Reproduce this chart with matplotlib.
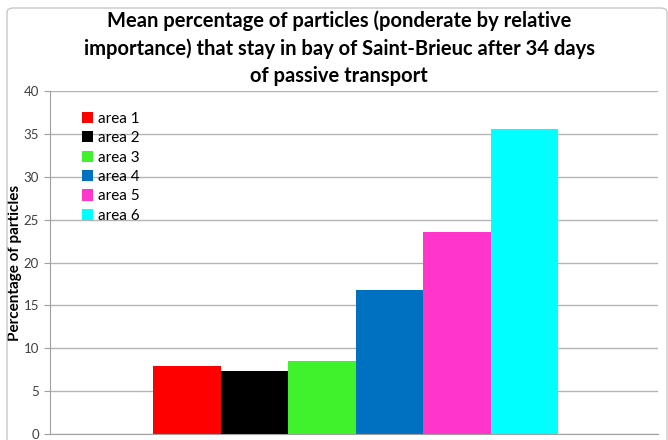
import matplotlib
matplotlib.use("Agg")
import matplotlib.pyplot as plt
from matplotlib.patches import FancyBboxPatch

# mean percentage of particles retained in the bay, one bar per release area
areas = ["area 1", "area 2", "area 3", "area 4", "area 5", "area 6"]
pourcentage = [7.88, 7.38, 8.54, 16.85, 23.54, 35.58]
couleurs = ["#ff0000", "#000000", "#40f22c", "#0070c0", "#ff35cc", "#00ffff"]

titre = ("Mean percentage of particles (ponderate by relative\n"
         "importance) that stay in bay of Saint-Brieuc after 34 days\n"
         "of passive transport")

plt.rcParams["font.family"] = ["Lato", "DejaVu Sans"]

fig = plt.figure(figsize=(6.68, 4.40), dpi=100)
ax = fig.add_axes([50 / 668, 1 - 434 / 440, 608 / 668, 343 / 440])

for i, (nom, val, c) in enumerate(zip(areas, pourcentage, couleurs)):
    ax.bar(i, val, width=1.0, color=c, label=nom, zorder=2)

ax.set_xlim(-2.03, 6.98)
ax.set_ylim(0, 40)
ax.set_yticks(range(0, 41, 5))
ax.set_xticks([])
ax.grid(axis="y", color="#b4b4b4", linewidth=1.0, zorder=0)
ax.tick_params(axis="y", length=4, color="#a0a0a0", labelsize=9.5,
               labelcolor="#404040", pad=4)

for cote in ["top", "right"]:
    ax.spines[cote].set_visible(False)
ax.spines["left"].set_color("#a0a0a0")
ax.spines["bottom"].set_color("#a0a0a0")

ax.set_ylabel("Percentage of particles", fontsize=11, fontweight="bold",
              labelpad=1)

ax.legend(loc="upper left", bbox_to_anchor=(0.042, 0.957), frameon=False,
          fontsize=11, handlelength=0.75, handleheight=0.75,
          handletextpad=0.35, labelspacing=0.35, borderaxespad=0)

fig.text(339 / 668, 1 - 48 / 440, titre, ha="center", va="center",
         fontsize=14.5, fontweight="bold", linespacing=1.45)

# light frame around the whole chart area
cadre = FancyBboxPatch((7 / 668, -0.05), 660 / 668, 1.05 - 8 / 440,
                       boxstyle="round,pad=0,rounding_size=0.01",
                       transform=fig.transFigure, facecolor="none",
                       edgecolor="#c8c8c8", linewidth=1.0)
fig.patches.append(cadre)

fig.savefig("out.png", dpi=100)
